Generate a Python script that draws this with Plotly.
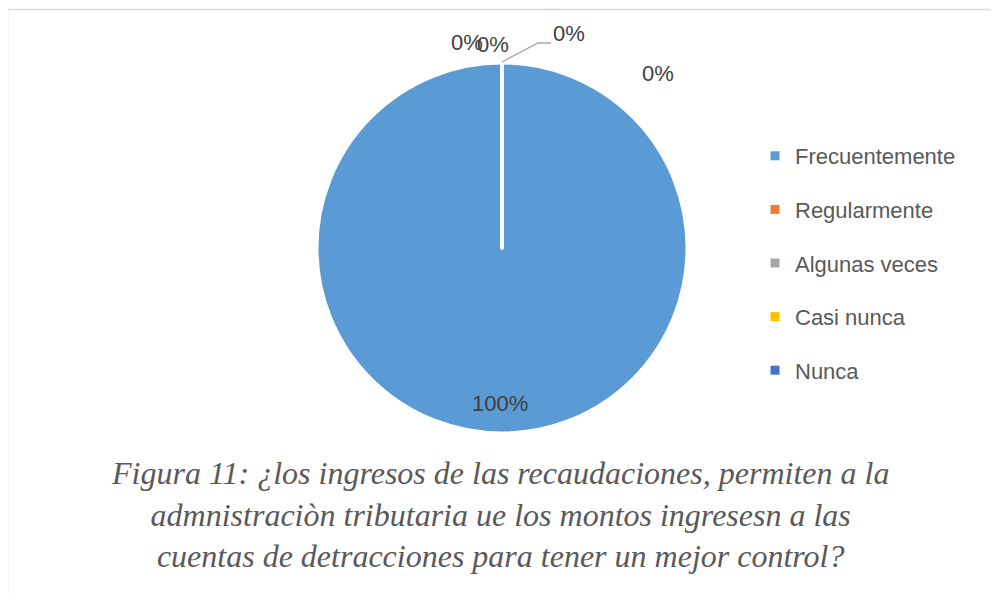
import plotly.graph_objects as go

categorias = ["Frecuentemente", "Regularmente", "Algunas veces", "Casi nunca", "Nunca"]
valores = [100, 0, 0, 0, 0]
colores = ["#5b9bd5", "#ed7d31", "#a5a5a5", "#ffc000", "#4472c4"]

titulo = ("Figura 11: ¿los ingresos de las recaudaciones, permiten a la<br>"
          "admnistraciòn tributaria ue los montos ingresesn a las<br>"
          "cuentas de detracciones para tener un mejor control?")

# the page body adds an 8px margin, so the figure is a bit smaller
OFF = 8
W, H = 998 - 2 * OFF, 603 - 2 * OFF


def fx(px):
    return (px - OFF) / W


def fy(py):
    return 1 - (py - OFF) / H


cx, cy, r = 502, 248, 185

fig = go.Figure()
fig.add_trace(go.Pie(
    labels=categorias, values=valores, sort=False, direction="clockwise",
    rotation=0, textinfo="none", showlegend=False, hoverinfo="label+percent",
    marker=dict(colors=colores, line=dict(color="white", width=3)),
    domain=dict(x=[fx(cx - r), fx(cx + r)], y=[fy(cy + r), fy(cy - r)]),
))

# legend entries (separate groups so the spacing matches the original)
for i, (cat, col) in enumerate(zip(categorias, colores)):
    fig.add_trace(go.Scatter(
        x=[None], y=[None], mode="markers", name=cat, legendgroup=str(i),
        marker=dict(symbol="square", size=9, color=col),
    ))

# data labels placed like the Excel chart
total = sum(valores)
pos_etiquetas = [(500, 403), (467, 42), (493, 44), (569, 33), (658, 74)]
for v, (px, py) in zip(valores, pos_etiquetas):
    fig.add_annotation(x=fx(px), y=fy(py), xref="paper", yref="paper",
                       xanchor="center", yanchor="middle",
                       text=f"{round(100 * v / total)}%", showarrow=False,
                       font=dict(size=22, color="#404040"))

fig.add_annotation(x=fx(500), y=fy(514), xref="paper", yref="paper", text=titulo,
                   showarrow=False, align="center", xanchor="center", yanchor="middle",
                   font=dict(family="Liberation Serif", size=32, color="#595959", style="italic"))

# leader line and frame
fig.add_shape(type="path", xref="paper", yref="paper",
              path=f"M {fx(cx)},{fy(62)} L {fx(538)},{fy(43)} L {fx(551)},{fy(43)}",
              line=dict(color="#a6a6a6", width=1.3))
fig.add_shape(type="line", xref="paper", yref="paper", x0=fx(7.5), x1=fx(997),
              y0=fy(9.5), y1=fy(9.5), line=dict(color="#d9d9d9", width=1.5))
fig.add_shape(type="line", xref="paper", yref="paper", x0=fx(7.5), x1=fx(7.5),
              y0=fy(9.5), y1=fy(610), line=dict(color="#d9d9d9", width=1.5))

fig.update_xaxes(visible=False)
fig.update_yaxes(visible=False)
fig.update_layout(
    width=W, height=H, margin=dict(l=0, r=0, t=0, b=0),
    paper_bgcolor="white", plot_bgcolor="white",
    font=dict(family="Liberation Sans", color="#595959"),
    legend=dict(x=fx(755), y=fy(135), xanchor="left", yanchor="top",
                traceorder="grouped", tracegroupgap=22,
                font=dict(size=22, color="#595959"), itemwidth=30),
)

fig.write_html("out.html")
